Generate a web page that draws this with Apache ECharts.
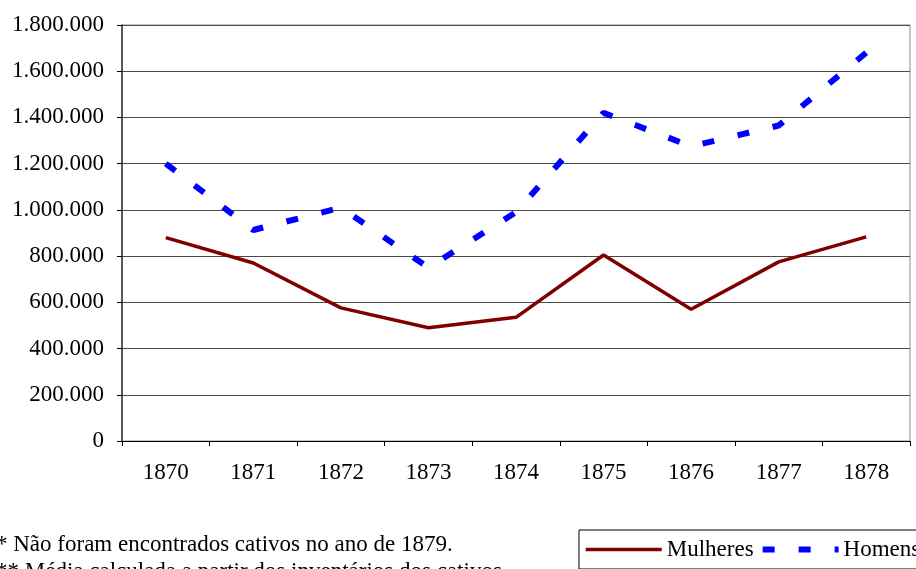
<!DOCTYPE html>
<html>
<head>
<meta charset="utf-8">
<script src="https://cdn.jsdelivr.net/npm/echarts@6/dist/echarts.min.js"></script>
<style>
  html, body { margin: 0; padding: 0; background: #fff; }
  #chart { width: 916px; height: 569px; }
</style>
</head>
<body>
<div id="chart"></div>
<script>
  // dados
  let anos = ["1870", "1871", "1872", "1873", "1874", "1875", "1876", "1877", "1878"];
  let mulheres = [880000, 770000, 576000, 490000, 535000, 805000, 570000, 775000, 883000];
  let homens = [1200000, 913000, 1010000, 750000, 990000, 1420000, 1275000, 1365000, 1680000];

  let serif = "'Liberation Serif', 'DejaVu Serif', serif";

  let chart = echarts.init(document.getElementById("chart"));

  function fmt(v) {
    return String(v).replace(/\B(?=(\d{3})+(?!\d))/g, ".");
  }

  chart.setOption({
    animation: false,
    grid: {
      left: 122,
      right: 6,
      top: 25,
      bottom: 128,
      show: true,
      borderColor: "#8c8c8c",
      borderWidth: 1,
    },
    legend: {
      left: 579,
      top: 530,
      width: 460,
      orient: "horizontal",
      padding: [8, 40, 8, 5],
      borderColor: "#000",
      borderWidth: 1,
      itemWidth: 76,
      itemHeight: 14,
      itemGap: 6,
      itemStyle: { opacity: 0 },
      textStyle: { fontFamily: serif, fontSize: 23, color: "#000" },
      data: [
        { name: "Mulheres", lineStyle: { width: 3.5 } },
        { name: "Homens", lineStyle: { width: 6 } },
      ],
    },
    xAxis: {
      type: "category",
      data: anos,
      boundaryGap: true,
      axisLine: { lineStyle: { color: "#000", width: 1 } },
      axisTick: { show: true, length: 5, lineStyle: { color: "#000" } },
      axisLabel: { fontFamily: serif, fontSize: 23, color: "#000", margin: 20 },
    },
    yAxis: {
      type: "value",
      min: 0,
      max: 1800000,
      interval: 200000,
      axisLine: { show: true, lineStyle: { color: "#333", width: 1.5 } },
      axisTick: { show: true, length: 5, lineStyle: { color: "#000" } },
      splitLine: { lineStyle: { color: "#4a4a4a", width: 1 } },
      axisLabel: {
        fontFamily: serif,
        fontSize: 23,
        color: "#000",
        margin: 18,
        formatter: fmt,
      },
    },
    series: [
      {
        name: "Mulheres",
        type: "line",
        data: mulheres,
        symbol: "none",
        lineStyle: { color: "#800000", width: 3.5 },
        itemStyle: { color: "#800000" },
      },
      {
        name: "Homens",
        type: "line",
        data: homens,
        symbol: "none",
        lineStyle: { color: "#0000ff", width: 6, type: [12, 24], cap: "butt" },
        itemStyle: { color: "#0000ff" },
      },
    ],
    graphic: [
      {
        type: "text",
        left: -4,
        top: 533,
        style: {
          text: "* Não foram encontrados cativos no ano de 1879.",
          fontFamily: serif,
          fontSize: 23,
          fill: "#000",
        },
      },
      {
        type: "text",
        left: -4,
        top: 560,
        style: {
          text: "** Média calculada a partir dos inventários dos cativos.",
          fontFamily: serif,
          fontSize: 23,
          fill: "#000",
        },
      },
    ],
  });
</script>
</body>
</html>
